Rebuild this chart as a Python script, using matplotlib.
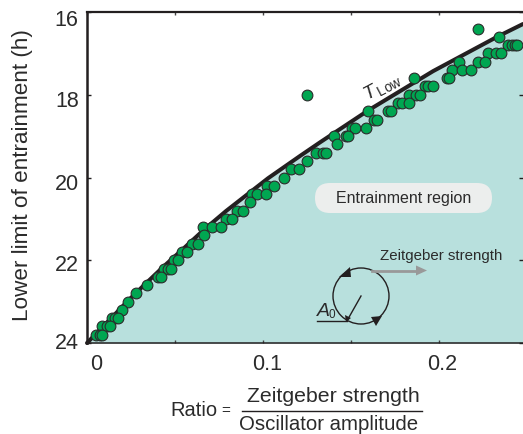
#!/usr/bin/python
"""Lower limit of entrainment against zeitgeber/oscillator ratio"""
import matplotlib
matplotlib.use('Agg')
import matplotlib.pyplot as plt
from matplotlib.patches import Circle, FancyBboxPatch, Polygon
from matplotlib.transforms import ScaledTranslation

plt.rcParams['font.family'] = ['Liberation Sans', 'DejaVu Sans']
plt.rcParams['mathtext.fontset'] = 'custom'
plt.rcParams['mathtext.rm'] = 'Liberation Sans'
plt.rcParams['mathtext.it'] = 'Liberation Sans:italic'

# curve T_Low
curve_ratio = [0, .0085, .0142, .0233, .0278, .0438, .0540, .0665, .0790, .1028, .1210, .1324, .1597, .1966, .2330, .2477]
curve_limit = [24, 23.63, 23.38, 22.98, 22.79, 22.14, 21.75, 21.26, 20.81, 20.02, 19.48, 19.15, 18.38, 17.43, 16.60, 16.29]

# measured points, one row per lower limit value
point_ratio = [.2223,
               .2343,
               .2394, .2413, .2432, .2445,
               .2280, .2322, .2351,
               .2114, .2220, .2263,
               .2074, .2131, .2182,
               .1860, .2044, .2057,
               .1920, .1939, .1964,
               .1248, .1831, .1869, .1892,
               .1765, .1788, .1828,
               .1598, .1712, .1727,
               .1631, .1646,
               .1504, .1523, .1583,
               .1403, .1470, .1485,
               .1419,
               .1301, .1339, .1358,
               .1248,
               .1157, .1205,
               .1118,
               .1024, .1064,
               .0938, .0964, .1015,
               .0926,
               .0854, .0888,
               .0790, .0822,
               .0661, .0708, .0760,
               .0665,
               .0598, .0633,
               .0538, .0570,
               .0494, .0519,
               .0438, .0462, .0477,
               .0405, .0420,
               .0343,
               .0277,
               .0231,
               .0197,
               .0140, .0159, .0178,
               .0087, .0112, .0131,
               .0049, .0074, .0087]
point_limit = [16.4,
               16.6,
               16.8, 16.8, 16.8, 16.8,
               17.0, 17.0, 17.0,
               17.2, 17.2, 17.2,
               17.4, 17.4, 17.4,
               17.6, 17.6, 17.6,
               17.8, 17.8, 17.8,
               18.0, 18.0, 18.0, 18.0,
               18.2, 18.2, 18.2,
               18.4, 18.4, 18.4,
               18.6, 18.6,
               18.8, 18.8, 18.8,
               19.0, 19.0, 19.0,
               19.2,
               19.4, 19.4, 19.4,
               19.6,
               19.8, 19.8,
               20.0,
               20.2, 20.2,
               20.4, 20.4, 20.4,
               20.6,
               20.8, 20.8,
               21.0, 21.0,
               21.2, 21.2, 21.2,
               21.4,
               21.6, 21.6,
               21.8, 21.8,
               22.0, 22.0,
               22.2, 22.2, 22.2,
               22.4, 22.4,
               22.6,
               22.8,
               23.0,
               23.2,
               23.4, 23.4, 23.4,
               23.6, 23.6, 23.6,
               23.8, 23.8, 23.8]

x_ticks = [0, .05, .1, .15, .2]
x_labels = ['0', '', '0.1', '', '0.2']
y_ticks = [16, 18, 20, 22, 24]
y_labels = ['16', '18', '20', '22', '24']

dark = '#231f20'
W, H = 523, 434

fig = plt.figure(figsize=(W / 100, H / 100), dpi=100)
ax = fig.add_axes([87 / W, 1 - 343 / H, 436 / W, 331 / H])

ax.fill_between(curve_ratio, curve_limit, 24, color='#b8e0dd', lw=0, zorder=1)
ax.plot(curve_ratio, curve_limit, color=dark, lw=2.9, zorder=2, clip_on=False, solid_capstyle='round')
ax.scatter(point_ratio, point_limit, s=60, color='#00a651', edgecolor='#2b2b2b', linewidth=0.8, zorder=3, clip_on=False)

ax.set_xlim(0, 0.2477)
ax.set_ylim(24, 16)
ax.set_xticks(x_ticks)
ax.set_xticklabels(x_labels)
ax.set_yticks(y_ticks)
ax.set_yticklabels(y_labels)
ax.tick_params(axis='x', direction='in', length=2.5, width=1, top=True, color='#444444',
               labelsize=15.5, pad=8, labelcolor='#2b2b2b')
ax.tick_params(axis='y', direction='in', length=3, width=1, right=True, color=dark,
               labelsize=15.5, pad=6, labelcolor='#2b2b2b')
ax.spines['right'].set_visible(False)
ax.spines['top'].set_linewidth(1.6)
ax.spines['left'].set_linewidth(1.8)
ax.spines['bottom'].set_linewidth(1.1)
for s in ['top', 'left', 'bottom']:
    ax.spines[s].set_color(dark)

# labels are not centred on their ticks in the original
for lab, dx in zip(ax.get_xticklabels(), [9, 0, 4, 0, 3]):
    lab.set_transform(lab.get_transform() + ScaledTranslation(dx / 100, 0, fig.dpi_scale_trans))
for lab, dy in zip(ax.get_yticklabels(), [-6, -4, -4, -3, 2]):
    lab.set_transform(lab.get_transform() + ScaledTranslation(0, dy / 100, fig.dpi_scale_trans))

# overlay in pixel coordinates for the drawn annotations
ov = fig.add_axes([0, 0, 1, 1], facecolor='none')
ov.set_xlim(0, W)
ov.set_ylim(H, 0)
ov.axis('off')

txt = '#2b2b2b'
ov.text(23, 175, 'Lower limit of entrainment (h)', rotation=90, ha='center', va='center', fontsize=16.2, color=txt)

ov.text(170, 410, 'Ratio', ha='left', va='center', fontsize=14.5, color=txt)
ov.text(226, 411, '=', ha='center', va='center', fontsize=11, color=txt)
ov.plot([242, 422], [411, 411], color=dark, lw=1)
ov.text(333, 396, 'Zeitgeber strength', ha='center', va='center', fontsize=15.3, color=txt)
ov.text(329, 425, 'Oscillator amplitude', ha='center', va='center', fontsize=14.7, color=txt)

ov.text(382, 87, r'$\mathit{T}_{\,\mathrm{Low}}$', rotation=28, ha='center', va='center', fontsize=14, color=txt)

ov.add_patch(FancyBboxPatch((315, 183), 177, 30, boxstyle='round,pad=0,rounding_size=15',
                            fc='#eceeed', ec='none'))
ov.text(404, 198, 'Entrainment region', ha='center', va='center', fontsize=11.5, color=txt)

ov.text(441, 256, 'Zeitgeber strength', ha='center', va='center', fontsize=10.8, color=txt)
ov.plot([372, 418], [270.5, 270.5], color='#999999', lw=2)
ov.add_patch(Polygon([[416, 265.5], [427, 270.5], [416, 275.5]], fc='#999999', ec='none'))

ov.add_patch(Circle((361, 296), 28, fc='none', ec=dark, lw=1))
ov.add_patch(Polygon([[350, 267], [339, 277], [351, 277]], fc=dark, ec='none'))
ov.add_patch(Polygon([[371, 317], [382, 316], [376, 326]], fc=dark, ec='none'))
ov.plot([361, 348], [296, 319], color=dark, lw=1)
ov.add_patch(Polygon([[345, 315], [351, 318], [346, 322]], fc=dark, ec='none'))
ov.plot([317, 347], [320.7, 320.7], color=dark, lw=1)
ov.text(323, 312, 'A', style='italic', ha='center', va='center', fontsize=14, color=txt)
ov.text(332, 314.5, '0', ha='center', va='center', fontsize=8.5, color=txt)

fig.savefig('out.png', dpi=100)
